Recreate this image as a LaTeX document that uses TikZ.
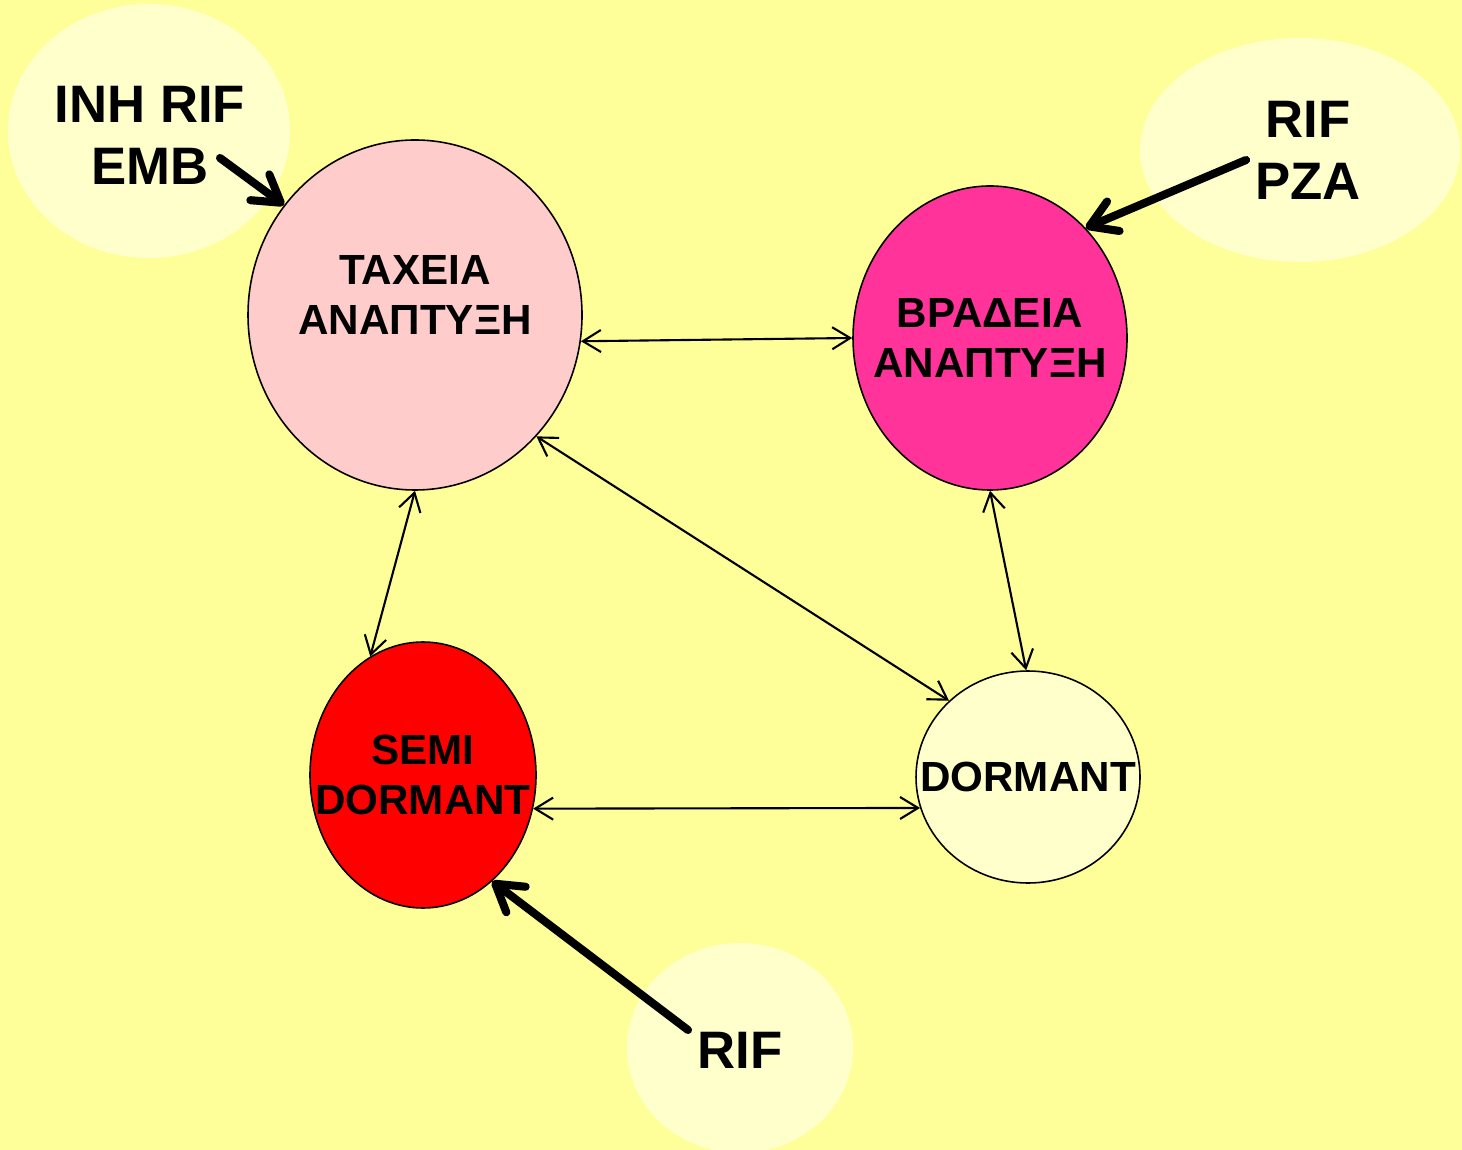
\documentclass[tikz,border=0pt]{standalone}
\usepackage{fontspec}
\setmainfont{Liberation Sans}
\usepackage{xcolor}
\usepackage{tikz}
\usetikzlibrary{arrows.meta,positioning,shapes.geometric}
\definecolor{bgyellow}{HTML}{FFFF99}
\definecolor{glow}{HTML}{FFFFCC}
\definecolor{fastpink}{HTML}{FFCCCC}
\definecolor{slowpink}{HTML}{FF3399}
\definecolor{semired}{HTML}{FF0000}
\definecolor{dormyellow}{HTML}{FFFFCC}

\begin{document}
\begin{tikzpicture}[every node/.style={align=center},
    cell/.style={ellipse,draw,line width=0.45pt,inner sep=0pt},
    celltext/.style={inner sep=0pt,font=\fontsize{12}{14.2}\selectfont\bfseries},
    drug/.style={font=\fontsize{15}{17.6}\selectfont\bfseries},
    link/.style={{Straight Barb[length=1.8mm,width=2.2mm]}-{Straight Barb[length=1.8mm,width=2.2mm]},
                 line width=0.6pt},
    hit/.style={-{Straight Barb[length=2.6mm,width=3.2mm,round]},
                line width=2.3pt,line cap=round}]
      \useasboundingbox (0,0) rectangle (14.62,-11.5);
      \fill[bgyellow] (0,0) rectangle (14.62,-11.5);
      % glows behind the drug names
      \fill[glow] (1.49,-1.31) ellipse [x radius=1.41,y radius=1.27];
      \fill[glow] (13.0,-1.5) ellipse [x radius=1.6,y radius=1.12];
      \fill[glow] (7.4,-10.48) ellipse [x radius=1.13,y radius=1.05];
      % populations
      \node[cell,fill=fastpink,minimum width=3.34cm,minimum height=3.5cm]
        (fast) at (4.15,-3.15) {};
      \node[cell,fill=slowpink,minimum width=2.74cm,minimum height=3.04cm]
        (slow) at (9.9,-3.38) {};
      \node[cell,fill=semired,minimum width=2.26cm,minimum height=2.66cm]
        (semi) at (4.23,-7.75) {};
      \node[cell,fill=dormyellow,minimum width=2.24cm,minimum height=2.12cm]
        (dorm) at (10.28,-7.77) {};
      \node[celltext] at ([yshift=2mm]fast.center) {ΤΑΧΕΙΑ\\ΑΝΑΠΤΥΞΗ};
      \node[celltext] at (slow.center) {ΒΡΑΔΕΙΑ\\ΑΝΑΠΤΥΞΗ};
      \node[celltext] at (semi.center) {SEMI\\DORMANT};
      \node[celltext] at (dorm.center) {DORMANT};
      % drugs
      \node[drug] (inh) at (1.5,-1.35) {INH RIF\\EMB};
      \node[drug] (pza) at (13.08,-1.5) {RIF\\PZA};
      \node[drug] (rif) at (7.4,-10.5) {RIF};
      \coordinate (inhtail) at (2.2,-1.58);
      \coordinate (pzatail) at (12.46,-1.6);
      \coordinate (riftail) at (6.88,-10.3);
      % transitions
      \draw[link] (fast.-9) -- (slow.180.6);
      \draw[link] (fast.-90) -- (semi.114);
      \draw[link] (fast.-45.7) -- (dorm.136);
      \draw[link] (slow.-90) -- (dorm.91);
      \draw[link] (semi.-17.5) -- (dorm.196.5);
      % drug action
      \draw[hit] (inhtail) -- (fast.140);
      \draw[hit] (pzatail) -- (slow.49);
      \draw[hit] (riftail) -- (semi.-57);
    \end{tikzpicture}
\end{document}
